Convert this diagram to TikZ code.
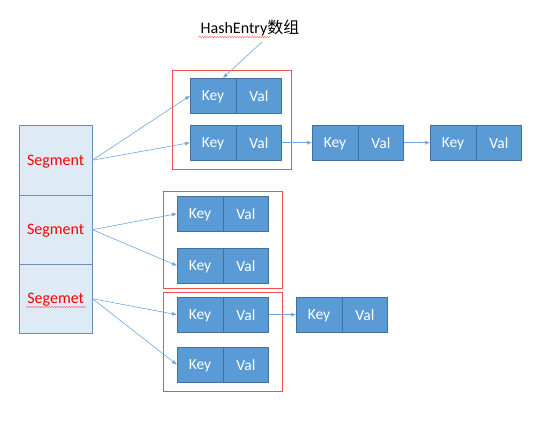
\documentclass[tikz,border=0pt]{standalone}
\usepackage{fontspec}
\setmainfont{Carlito}
\newfontfamily\cjk{Noto Sans CJK SC}
\usetikzlibrary{arrows.meta,decorations.pathmorphing,calc}
\definecolor{boxfill}{RGB}{91,155,213}
\definecolor{boxline}{RGB}{65,113,156}
\definecolor{segfill}{RGB}{222,235,247}
\definecolor{segline}{RGB}{110,140,180}
\definecolor{linkcol}{RGB}{110,165,220}
\definecolor{grpred}{RGB}{240,80,80}
\tikzset{
  kv/.style={draw=boxline, fill=boxfill, text=white, minimum height=35pt, minimum width=45.5pt, inner sep=0pt, text depth=0pt, font=\fontsize{15.5}{15.5}\selectfont},
  seg/.style={draw=segline, fill=segfill, text=red, minimum width=73pt, inner sep=0pt, text depth=0pt, font=\fontsize{16}{16}\selectfont},
  grp/.style={draw=grpred, line width=0.8pt},
  link/.style={draw=linkcol, line width=0.6pt, -{Latex[length=5pt,width=4pt]}},
  wavy/.style={draw=red!55, line width=0.5pt, decorate, decoration={snake, amplitude=0.7pt, segment length=2.5pt}}
}
\begin{document}
\begin{tikzpicture}[x=1pt,y=-1pt]
\useasboundingbox (0,0) rectangle (535,420);
% title
\node[anchor=base, inner sep=0pt, font=\fontsize{16}{16}\selectfont] (lbl) at (250,34) {HashEntry{\cjk 数组}};
\draw[wavy] (199,37) -- (270,37);
% segments
\node[seg, minimum height=70pt, anchor=north west] (s1) at (19,125) {Segment};
\node[seg, minimum height=69pt, anchor=north west] (s2) at (19,195) {Segment};
\node[seg, minimum height=69pt, anchor=north west] (s3) at (19,264) {Segemet};
\draw[wavy] (26,307) -- (86,307);
% group boxes
\draw[grp] (172,70) rectangle (291,169);
\draw[grp] (163,191) rectangle (282,288);
\draw[grp] (163,292) rectangle (282,391);
% key/val entries
\node[kv, anchor=north west] (k1) at (190,78) {Key};
\node[kv, anchor=west] (v1) at (k1.east) {Val};
\node[kv, anchor=north west] (k2) at (190,125) {Key};
\node[kv, anchor=west] (v2) at (k2.east) {Val};
\node[kv, anchor=north west] (k3) at (312,125) {Key};
\node[kv, anchor=west] (v3) at (k3.east) {Val};
\node[kv, anchor=north west] (k4) at (430,125) {Key};
\node[kv, anchor=west] (v4) at (k4.east) {Val};
\node[kv, anchor=north west] (k5) at (177,196) {Key};
\node[kv, anchor=west] (v5) at (k5.east) {Val};
\node[kv, anchor=north west] (k6) at (177,248) {Key};
\node[kv, anchor=west] (v6) at (k6.east) {Val};
\node[kv, anchor=north west] (k7) at (177,297) {Key};
\node[kv, anchor=west] (v7) at (k7.east) {Val};
\node[kv, anchor=north west] (k8) at (177,347) {Key};
\node[kv, anchor=west] (v8) at (k8.east) {Val};
\node[kv, anchor=north west] (k9) at (296,297) {Key};
\node[kv, anchor=west] (v9) at (k9.east) {Val};
% connectors
\coordinate (hstart) at (262,42);
\draw[link] (hstart) -- ($(k1.north east)+(-13,0)$);
\draw[link] (s1.east) -- (k1.west);
\draw[link] (s1.east) -- (k2.west);
\draw[link] (s2.east) -- (k5.west);
\draw[link] (s2.east) -- (k6.west);
\draw[link] (s3.east) -- (k7.west);
\draw[link] (s3.east) -- (k8.west);
\draw[link] (v2.east) -- (k3.west);
\draw[link] (v3.east) -- (k4.west);
\draw[link] (v7.east) -- (k9.west);
\end{tikzpicture}
\end{document}
